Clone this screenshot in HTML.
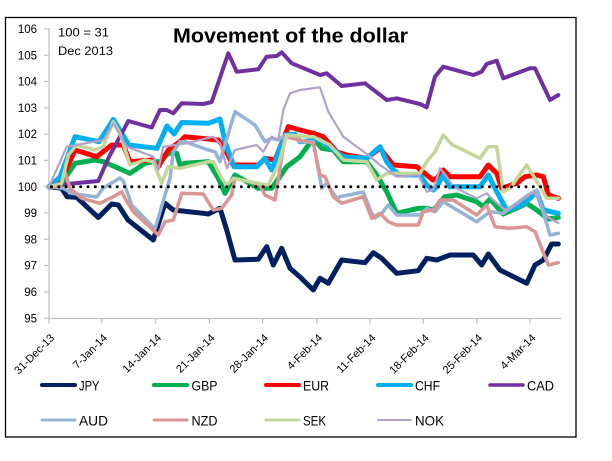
<!DOCTYPE html>
<html><head><meta charset="utf-8"><style>
html,body{margin:0;padding:0;background:#fff;}
svg{display:block;}
text{font-family:"Liberation Sans",Arial,sans-serif;fill:#000;}
</style></head><body>
<svg width="612" height="461" viewBox="0 0 612 461" xmlns="http://www.w3.org/2000/svg">
<rect x="0" y="0" width="612" height="461" fill="#fff"/>
<rect x="5.5" y="17.5" width="570.5" height="419.5" fill="#fff" stroke="#000" stroke-width="1.3"/>

<!-- axes -->
<g stroke="#bfbfbf" stroke-width="1.2" fill="none">
<line x1="49" y1="28" x2="49" y2="318.5"/>
<line x1="49" y1="318.5" x2="561" y2="318.5"/>
<line x1="44" y1="28.9" x2="49" y2="28.9"/>
<line x1="44" y1="55.2" x2="49" y2="55.2"/>
<line x1="44" y1="81.5" x2="49" y2="81.5"/>
<line x1="44" y1="107.8" x2="49" y2="107.8"/>
<line x1="44" y1="134.1" x2="49" y2="134.1"/>
<line x1="44" y1="160.4" x2="49" y2="160.4"/>
<line x1="44" y1="186.7" x2="49" y2="186.7"/>
<line x1="44" y1="213" x2="49" y2="213"/>
<line x1="44" y1="239.3" x2="49" y2="239.3"/>
<line x1="44" y1="265.6" x2="49" y2="265.6"/>
<line x1="44" y1="291.9" x2="49" y2="291.9"/>
<line x1="44" y1="318.2" x2="49" y2="318.2"/>
<line x1="49" y1="318.5" x2="49" y2="323.5"/>
<line x1="101.7" y1="318.5" x2="101.7" y2="323.5"/>
<line x1="155.7" y1="318.5" x2="155.7" y2="323.5"/>
<line x1="209.3" y1="318.5" x2="209.3" y2="323.5"/>
<line x1="262.7" y1="318.5" x2="262.7" y2="323.5"/>
<line x1="316.7" y1="318.5" x2="316.7" y2="323.5"/>
<line x1="370" y1="318.5" x2="370" y2="323.5"/>
<line x1="423.3" y1="318.5" x2="423.3" y2="323.5"/>
<line x1="476.7" y1="318.5" x2="476.7" y2="323.5"/>
<line x1="530" y1="318.5" x2="530" y2="323.5"/>
</g>

<!-- y labels -->
<g font-size="11.5" text-anchor="end" fill="#222">
<text x="37" y="33">106</text>
<text x="37" y="59.3">105</text>
<text x="37" y="85.6">104</text>
<text x="37" y="111.9">103</text>
<text x="37" y="138.2">102</text>
<text x="37" y="164.5">101</text>
<text x="37" y="190.8">100</text>
<text x="37" y="217.1">99</text>
<text x="37" y="243.4">98</text>
<text x="37" y="269.7">97</text>
<text x="37" y="296">96</text>
<text x="37" y="322.3">95</text>
</g>

<!-- x labels -->
<g font-size="11" text-anchor="end" fill="#222">
<text transform="translate(55,338.5) rotate(-45)">31-Dec-13</text>
<text transform="translate(108,338.5) rotate(-45)">7-Jan-14</text>
<text transform="translate(162,338.5) rotate(-45)">14-Jan-14</text>
<text transform="translate(215.5,338.5) rotate(-45)">21-Jan-14</text>
<text transform="translate(269,338.5) rotate(-45)">28-Jan-14</text>
<text transform="translate(323,338.5) rotate(-45)">4-Feb-14</text>
<text transform="translate(376.3,338.5) rotate(-45)">11-Feb-14</text>
<text transform="translate(429.6,338.5) rotate(-45)">18-Feb-14</text>
<text transform="translate(483,338.5) rotate(-45)">25-Feb-14</text>
<text transform="translate(536.3,338.5) rotate(-45)">4-Mar-14</text>
</g>

<!-- series -->
<g fill="none" stroke-linejoin="round" stroke-linecap="round">
<polyline stroke="#002060" stroke-width="5" points="49,186.7 61.7,188.3 67,196.7 76.7,197.3 98.3,217.5 111.7,204 118.3,205 128,220 153.3,240 165,203.3 173.3,210 203.3,213.3 208.3,214 220,208.3 226.7,230 235,260 258.3,259.3 266.7,246.7 273.3,265 281.7,248.3 290,268.3 300,277 313.3,290 320,278.3 328.3,283.3 341.7,260 365,262.7 373.3,252.7 381.7,258.3 396.7,273.3 418.3,270.7 426.7,258.3 436.7,260 450,255 473.3,255 481.7,265 488.3,254 500,270 510,275 526.7,283.3 535,265 543.3,260 551.7,244 558.3,244"/>
<polyline stroke="#00B050" stroke-width="5" points="49,186.7 61.7,183.3 75,163.3 95,160 103.3,161.7 115,166.7 130,173.3 145,163.3 153.3,161.7 160,161.7 168.3,153.3 176.7,153.3 180,165 185,163.3 208.3,161.7 218.3,178.3 225,193.3 235,175 258.3,188.3 271.7,188.3 286.7,166.7 300,156.7 313.3,138.3 321.7,148.3 333.3,150 343.3,161.7 366.7,161.7 376.7,175 386.7,191.7 396.7,213.3 418.3,208.3 426.7,208.3 433.3,210 445,196.7 456.7,195 476.7,201.7 483.3,206.7 490,199 503.3,214 520,206.7 526.7,203.3 536.7,210 548.3,219 558.3,217.5"/>
<polyline stroke="#FF0000" stroke-width="5" points="49,186.7 61.7,180 75,150 96.7,156.7 111.7,145 123.3,145 130,161.7 151.7,160 158.3,166.7 168.3,150 180,141.7 185,136.7 218.3,140 223.3,146.7 233.3,165 258.3,165 265,158.3 275,160 288.3,126.7 300,130 313.3,133.3 323.3,136.7 336.7,151.7 346.7,155 366.7,158.3 380,148.3 393.3,165 416.7,166.7 426.7,175 433,180 436.7,178.3 443.3,170 450,176.7 480,176.7 488.3,165 496.7,173.3 501.7,188.3 516.7,183.3 525,176.7 536.7,175 543.3,176.7 548.3,195 558.3,198.3"/>
<polyline stroke="#00B0F0" stroke-width="5" points="49,186.7 60,177 75,136.7 99,141.7 113.3,119.5 129,145 157,148.3 167,126 174,134 181.7,122.5 208.3,123.3 220,119 225,141.7 234,166.7 256.7,166.7 265,158.3 271.7,170 285,135 295,134.3 300,141.7 320,140 326.7,145 343.3,156.7 366.7,158.3 380,146.7 386.7,161.7 393.3,170 400,175 420,175 426.7,185 433.3,190 436.7,186.7 443.3,175 450,186.7 480,186.7 488.3,175 496.7,191.7 506.7,210 521.7,205 530,198.3 536.7,191.7 543.3,210 558.3,213.3"/>
<polyline stroke="#7030A0" stroke-width="4" points="49,186.7 55,185 65,184.3 85,182.3 98.3,181 108.3,158.3 128.3,121 151.7,127.5 160,110 166.7,110 173.3,113.3 181.7,103.3 203.3,104 211.7,102 228.3,53.3 236.7,71.7 258.3,69.3 266.7,56.7 276.7,56 281.7,52.3 291.7,63.3 300,66.7 320,75 326.7,73.3 341.7,86 365,83.3 386.7,100 396.7,98.3 420,104 426.7,107.3 435,76.7 443.3,66.7 473.3,75 481.7,71.7 486.7,64 496.7,60.7 503.3,78.3 530,68.3 535,68.3 550,100 558.3,95"/>
<polyline stroke="#95B3D7" stroke-width="3.5" points="49,186.7 63.3,188.3 71.7,193.3 96.7,197 103.3,188 120,178 123.3,181 131.7,205 155,229 160,212 170,178.3 173.3,151.7 180,141.7 185,141.7 208.3,150 215,151.7 220,161.7 223.3,150 235,111.7 255,125 265,141.7 271.7,138.3 278.3,140 285,135 295,136.7 300,141.7 313.3,141.7 321.7,188.3 326.7,183.3 336.7,198.3 340,196.7 363.3,192 371,212 375,218 381.7,213.3 388.3,205 396.7,215 420,215 426.7,208.3 435,211.7 443.3,201.7 476.7,221.7 490,211.7 503.3,213.3 526.7,196 536.7,190 550,235 558.3,233.3"/>
<polyline stroke="#D99694" stroke-width="3.5" points="49,186.7 60,186.7 65,172 70,188.3 81.7,198.3 100,203.3 113.3,196.7 121.7,191.7 125,198.3 133.3,211.7 158.3,235 165,221.7 173.3,220 181.7,193.3 203.3,194 213.3,210 221.7,208.3 231.7,195 235,178.3 248.3,181.7 260,185 265,195 275,200 285,136.7 300,140 313.3,143.3 320,175 325,176.7 333.3,196.7 341.7,203.3 363.3,196.7 371.7,218.3 380,213.3 388.3,221.7 396.7,225 418.3,225 423.3,211.7 433.3,210 440,200 453.3,200 476.7,215 486.7,205 495,226.7 510,228.3 526.7,226.7 535,231.7 548.3,265 558.3,262.7"/>
<polyline stroke="#C3D69B" stroke-width="3.5" points="49,186.7 61.7,183.3 68.3,155 76.7,145 95,150 103.3,146.7 113.3,121.7 120,133.3 130,165 145,160 153.3,161.7 161.7,183.3 168.3,166.7 180,168.3 208.3,161.7 213.3,161.7 221.7,178.3 226.7,185 233.3,178.3 258.3,183.3 268.3,185 278.3,165 286.7,135 310,136.7 313.3,136.7 330,145 343.3,160 366.7,161.7 376.7,180 386.7,173.3 396.7,173.3 420,173.3 426.7,161.7 435,151.7 443.3,135 451.7,144.3 480,158.3 488.3,146.7 496.7,146.7 503.3,191.7 510,188.3 526.7,165 540,186.7 546.7,198.3 558.3,198.3"/>
<polyline stroke="#B3A2C7" stroke-width="2.2" points="49,186.7 66.7,146.7 103.3,140 113.3,123.3 126.7,146.7 153.3,156.7 158.3,170 163.3,146.7 186.7,143.3 213.3,136.7 220,143.3 227,168.3 235,150 256.7,145 263.3,151.7 271.7,136.7 278.3,140 283.3,110 290,93.3 300,90 320,87.3 328.3,111.7 343.3,136.7 366.7,154 380,165 396.7,176.7 418.3,175 426.7,191.7 433.3,190 440,168.3 446.7,176.7 453.3,186.7 476.7,198.3 486.7,193.3 493.3,200 505,210 518.3,203.3 526.7,196.7 533.3,191.7 540,201.7 546.7,216.7 558.3,223"/>
</g>

<!-- dotted 100 line -->
<line x1="51.5" y1="186.7" x2="555" y2="186.7" stroke="#000" stroke-width="3" stroke-linecap="round" stroke-dasharray="0 7.3"/>

<!-- title & note -->
<text x="173" y="42.7" font-size="20" font-weight="bold" textLength="235" lengthAdjust="spacingAndGlyphs">Movement of the dollar</text>
<text x="58" y="36.7" font-size="12" textLength="51" lengthAdjust="spacingAndGlyphs">100 = 31</text>
<text x="58" y="55" font-size="12" textLength="55" lengthAdjust="spacingAndGlyphs">Dec 2013</text>

<!-- legend -->
<g stroke-linecap="round" fill="none">
<line x1="42" y1="385" x2="75" y2="385" stroke="#002060" stroke-width="4"/>
<line x1="154" y1="385" x2="187" y2="385" stroke="#00B050" stroke-width="4"/>
<line x1="266" y1="385" x2="299" y2="385" stroke="#FF0000" stroke-width="4"/>
<line x1="378" y1="385" x2="411" y2="385" stroke="#00B0F0" stroke-width="4"/>
<line x1="490" y1="385" x2="523" y2="385" stroke="#7030A0" stroke-width="3.5"/>
<line x1="42" y1="420" x2="75" y2="420" stroke="#95B3D7" stroke-width="3"/>
<line x1="154" y1="420" x2="187" y2="420" stroke="#D99694" stroke-width="3"/>
<line x1="266" y1="420" x2="299" y2="420" stroke="#C3D69B" stroke-width="3"/>
<line x1="378" y1="420" x2="411" y2="420" stroke="#B3A2C7" stroke-width="2"/>
</g>
<g font-size="14">
<text x="79" y="390.5" textLength="20.5" lengthAdjust="spacingAndGlyphs">JPY</text>
<text x="191.5" y="390.5" textLength="26" lengthAdjust="spacingAndGlyphs">GBP</text>
<text x="303" y="390.5" textLength="26" lengthAdjust="spacingAndGlyphs">EUR</text>
<text x="415" y="390.5" textLength="25" lengthAdjust="spacingAndGlyphs">CHF</text>
<text x="527" y="390.5" textLength="27" lengthAdjust="spacingAndGlyphs">CAD</text>
<text x="79" y="425.5" textLength="29" lengthAdjust="spacingAndGlyphs">AUD</text>
<text x="191.5" y="425.5" textLength="26" lengthAdjust="spacingAndGlyphs">NZD</text>
<text x="303" y="425.5" textLength="23" lengthAdjust="spacingAndGlyphs">SEK</text>
<text x="415" y="425.5" textLength="29" lengthAdjust="spacingAndGlyphs">NOK</text>
</g>
</svg>
</body></html>
